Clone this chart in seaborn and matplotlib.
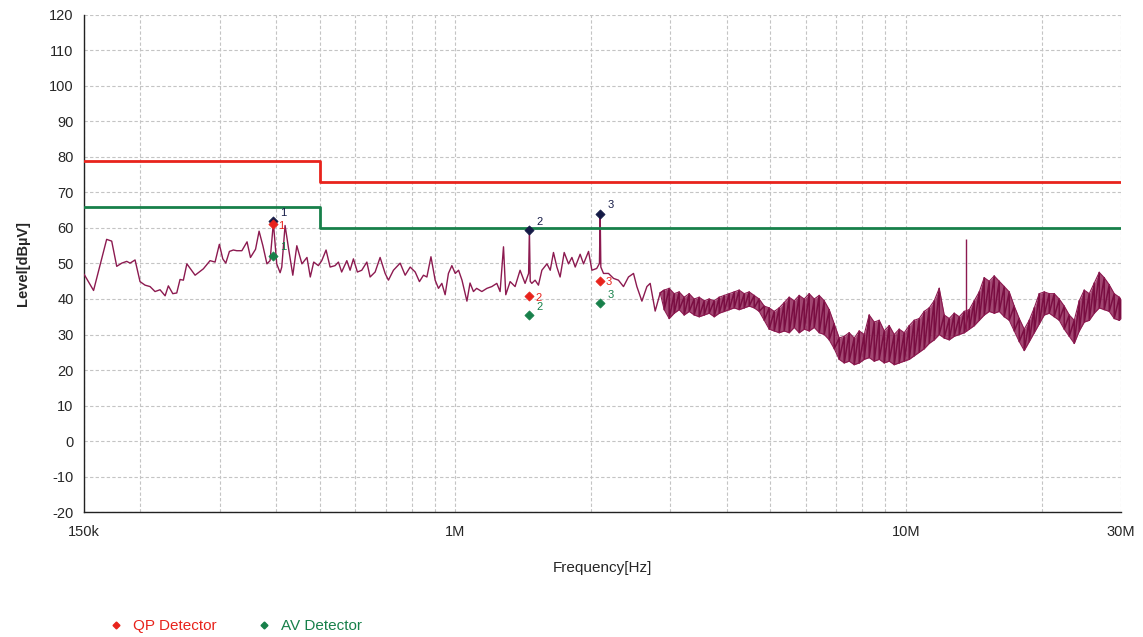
import numpy as np
import pandas as pd
import matplotlib
matplotlib.use("Agg")
import matplotlib.pyplot as plt
from matplotlib.lines import Line2D
from matplotlib.ticker import FixedLocator, NullFormatter
import seaborn as sns

# ---------------- data (frequencies in kHz, levels in dBuV) ----------------
trace_khz = [150, 157.5, 168.4, 172.8, 177.3, 181.9, 186.6, 189.8, 194.7, 199.7,
             204.9, 210.2, 215.6, 221.2, 227.0, 230.8, 236.1, 240.9, 245.0, 249.2,
             253.7, 264.6, 276.0, 285.6, 293.0, 299.5, 304.8, 309.5, 315.3, 321.7,
             327.4, 336.0, 345.0, 351.1, 360.3, 366.9, 374.1, 381.9, 388.1, 394.7,
             401.5, 408.5, 412.0, 419.0, 426.2, 435.9, 444.9, 456.7, 468.6, 476.6,
             485.1, 496.7, 505.4, 516.6, 527.4, 541.0, 550.3, 559.5, 574.4, 584.1,
             594.1, 606.3, 620.0, 636.3, 647.0, 663.8, 680.9, 698.6, 710.5, 728.9,
             754.3, 773.9, 793.9, 814.6, 832.4, 849.7, 864.8, 882.9, 902.1, 917.4,
             933.4, 949.2, 965.3, 982.4, 999.5, 1016.6, 1034.6, 1061, 1078, 1097,
             1115, 1145, 1175, 1205, 1236, 1257, 1279, 1294, 1323, 1357,
             1392, 1428, 1454, 1460, 1466, 1478, 1503, 1529, 1556, 1597,
             1624, 1651, 1680, 1708, 1744, 1783, 1814, 1845, 1892, 1925,
             1975, 2009, 2059, 2088, 2096, 2103, 2132, 2187, 2244, 2301,
             2361, 2422, 2485, 2528, 2594, 2661, 2706, 2776, 2848]
trace_lvl = [47.0, 42.4, 56.8, 56.3, 49.2, 50.1, 50.6, 50.1, 51.0, 44.9,
             43.9, 43.5, 42.1, 42.6, 40.9, 43.7, 41.5, 41.7, 45.5, 45.3,
             49.9, 46.7, 48.5, 50.8, 50.4, 55.4, 51.3, 50.1, 53.4, 53.8,
             53.6, 53.6, 56.1, 51.7, 54.0, 59.1, 55.0, 49.9, 50.8, 61.5,
             49.9, 47.4, 49.0, 60.7, 54.5, 46.7, 55.0, 49.9, 51.7, 46.2,
             50.4, 49.4, 50.8, 53.8, 49.0, 49.4, 50.4, 47.6, 50.8, 48.1,
             51.3, 47.6, 48.1, 50.4, 46.2, 47.6, 51.7, 47.2, 45.3, 48.1,
             50.1, 46.7, 49.0, 47.6, 44.9, 46.7, 46.2, 51.9, 45.3, 43.0,
             44.4, 41.2, 47.2, 49.4, 47.2, 48.1, 45.3, 39.4, 44.5, 42.1,
             43.0, 42.1, 43.0, 43.5, 44.4, 42.1, 54.7, 41.2, 44.9, 43.5,
             48.1, 44.4, 47.2, 59.4, 45.0, 44.4, 45.3, 43.9, 48.1, 49.9,
             48.1, 53.1, 49.0, 46.2, 53.1, 49.9, 51.7, 49.0, 52.6, 49.9,
             53.4, 48.1, 48.6, 50.0, 64.0, 49.0, 47.2, 47.2, 45.8, 45.3,
             43.5, 46.2, 47.2, 43.5, 39.4, 43.5, 44.4, 36.6, 41.7]

# dense part of the sweep: per-bin maximum / minimum of the noise band
band_khz = [2848, 2907, 2982, 3059, 3138, 3219, 3303, 3388, 3476, 3566,
            3658, 3753, 3850, 3950, 4052, 4157, 4264, 4375, 4488, 4604,
            4723, 4846, 4971, 5100, 5231, 5367, 5505, 5648, 5794, 5944,
            6098, 6256, 6417, 6584, 6754, 6929, 7108, 7292, 7480, 7674,
            7873, 8076, 8285, 8500, 8720, 8946, 9177, 9415, 9658, 9908,
            10165, 10428, 10697, 10974, 11258, 11549, 11849, 12155, 12470, 12793,
            13124, 13464, 13812, 14170, 14536, 14913, 15298, 15695, 16100, 16518,
            16944, 17383, 17832, 18294, 18767, 19253, 19751, 20262, 20786, 21325,
            21876, 22443, 23023, 23619, 24230, 24857, 25500, 26160, 26837, 27531,
            28244, 28974, 29725, 30000]
band_hi = [41.7, 42.5, 43.0, 41.5, 42.0, 40.5, 41.5, 40.0, 40.5, 39.5,
           40.0, 39.5, 40.5, 41.0, 41.5, 42.0, 42.5, 41.5, 42.0, 41.0,
           40.0, 38.0, 37.5, 36.5, 37.5, 39.0, 40.5, 39.5, 41.0, 40.0,
           41.5, 40.0, 41.0, 39.5, 37.0, 33.0, 29.0, 29.5, 30.5, 29.0,
           31.0, 30.0, 35.5, 33.5, 34.0, 31.0, 32.5, 30.0, 31.5, 30.5,
           32.5, 34.0, 34.5, 36.5, 37.5, 39.5, 43.0, 35.5, 34.5, 36.0,
           35.0, 36.5, 37.0, 39.5, 42.0, 46.0, 45.0, 46.5, 45.0, 43.5,
           42.0, 38.0, 34.5, 31.5, 34.0, 37.5, 41.5, 42.0, 41.5, 41.5,
           40.0, 38.0, 35.5, 34.0, 39.5, 42.5, 41.5, 44.5, 47.5, 46.0,
           44.0, 41.5, 40.5, 40.0]
band_lo = [41.7, 37.0, 34.5, 36.0, 37.0, 35.5, 36.5, 35.5, 35.0, 35.5,
           36.0, 35.0, 36.0, 36.5, 37.0, 37.5, 37.0, 37.5, 38.0, 37.5,
           36.5, 34.0, 31.5, 31.0, 30.5, 31.0, 30.5, 32.0, 30.5, 31.5,
           31.0, 32.0, 30.5, 30.0, 28.5, 26.0, 23.0, 22.0, 22.5, 21.5,
           22.0, 23.0, 23.5, 22.5, 23.0, 22.0, 22.5, 21.5, 22.0, 22.5,
           23.0, 24.0, 25.0, 26.0, 27.5, 28.5, 30.0, 29.0, 28.5, 29.5,
           30.0, 30.5, 31.5, 32.5, 34.0, 35.5, 36.5, 36.0, 36.5, 35.0,
           34.0, 31.0, 28.0, 25.5, 28.0, 30.5, 33.0, 35.5, 36.0, 35.0,
           34.0, 31.5, 29.5, 27.5, 31.0, 33.5, 34.0, 36.0, 37.5, 37.0,
           36.5, 34.5, 34.0, 34.5]
spur_khz = [13600]
spur_base = [31.0]
spur_top = [57.0]

# limit lines (CISPR class A)
qp_lim_khz = [150, 500, 500, 30000]
qp_lim_lvl = [79, 79, 73, 73]
av_lim_khz = [150, 500, 500, 30000]
av_lim_lvl = [66, 66, 60, 60]

# final measurement markers
mark_khz = [394, 1460, 2096]
mark_names = ["1", "2", "3"]
peak_lvl = [62.0, 59.4, 64.0]
qp_lvl = [61.0, 40.8, 45.1]
av_lvl = [52.2, 35.5, 38.8]

x_tick_vals = [150e3, 1e6, 10e6, 30e6]
x_tick_labels = ["150k", "1M", "10M", "30M"]
y_ticks = list(range(-20, 121, 10))

# ---------------- style ----------------
TRACE = "#8c1a50"
RED = "#e8231c"
GREEN = "#17804a"
NAVY = "#141a46"

sns.set_style("white")
plt.rcParams['font.family'] = ['Liberation Sans', 'DejaVu Sans']
plt.rcParams['axes.unicode_minus'] = False

fig = plt.figure(figsize=(11.43, 6.37), dpi=100)
ax = fig.add_axes([0.0735, 0.1962, 0.9073, 0.7803])
ax.set_xscale("log")
ax.set_xlim(150e3, 30e6)
ax.set_ylim(-20, 120)

k = 1e3
df_trace = pd.DataFrame({"f": np.array(trace_khz) * k, "lvl": trace_lvl})
sns.lineplot(data=df_trace, x="f", y="lvl", ax=ax, color=TRACE, lw=1.0,
             estimator=None, sort=False, zorder=3)

# noise band: envelope plus the max/min strokes of each bin
bf = np.array(band_khz) * k
ax.fill_between(bf, band_lo, band_hi, color=TRACE, alpha=0.8, lw=0, zorder=3)
zig_f = np.repeat(bf, 2)
zig_l = np.column_stack([band_hi, band_lo]).ravel()
sns.lineplot(x=zig_f, y=zig_l, ax=ax, color="#7a0e42", lw=1.1, estimator=None,
             sort=False, zorder=3)
sns.lineplot(x=bf, y=band_hi, ax=ax, color=TRACE, lw=0.8, estimator=None, sort=False, zorder=3)
sns.lineplot(x=bf, y=band_lo, ax=ax, color=TRACE, lw=0.8, estimator=None, sort=False, zorder=3)
ax.vlines(np.array(spur_khz) * k, spur_base, spur_top, color=TRACE, lw=1.0, zorder=3)

sns.lineplot(x=np.array(qp_lim_khz) * k, y=qp_lim_lvl, ax=ax, color=RED, lw=2,
             estimator=None, sort=False, zorder=4)
sns.lineplot(x=np.array(av_lim_khz) * k, y=av_lim_lvl, ax=ax, color=GREEN, lw=2,
             estimator=None, sort=False, zorder=4)

mf = np.array(mark_khz) * k
for lv, col, off in [(peak_lvl, NAVY, (5, 6)), (qp_lvl, RED, (4, -1)),
                     (av_lvl, GREEN, (5, 6))]:
    sns.scatterplot(x=mf, y=lv, ax=ax, marker="D", s=22, color=col,
                    edgecolor=col, linewidth=0.5, zorder=6, legend=False)
    for f, v, n in zip(mf, lv, mark_names):
        ax.annotate(n, (f, v), xytext=off, textcoords="offset points",
                    fontsize=8, color=col, ha="left", va="center", zorder=7)

# axes cosmetics
ax.set_xticks(x_tick_vals)
ax.set_xticklabels(x_tick_labels)
minor = [m * d for d in (1e5, 1e6, 1e7) for m in range(2, 10)
         if 150e3 < m * d < 30e6]
ax.xaxis.set_minor_locator(FixedLocator(minor))
ax.xaxis.set_minor_formatter(NullFormatter())
ax.set_yticks(y_ticks)

gkw = dict(ls=(0, (3, 2)), color="#c4c4c4", lw=0.8)
ax.grid(True, which="both", axis="x", **gkw)
ax.grid(True, which="major", axis="y", **gkw)
ax.set_axisbelow(True)

for s in ("top", "right"):
    ax.spines[s].set_visible(False)
for s in ("left", "bottom"):
    ax.spines[s].set_color("#222222")
    ax.spines[s].set_linewidth(1.0)

ax.tick_params(axis="both", which="major", direction="inout", length=9,
               width=1, color="#222222", labelsize=10.5, pad=3)
ax.tick_params(axis="x", which="minor", direction="inout", length=7,
               width=0.8, color="#222222")
ax.tick_params(axis="x", which="major", pad=5)

ax.set_xlabel("Frequency[Hz]", fontsize=11, labelpad=16)
ax.set_ylabel("Level[dBµV]", fontsize=10.5, fontweight="bold", labelpad=14)

handles = [Line2D([], [], marker="D", ls="", color=RED, ms=3.5),
           Line2D([], [], marker="D", ls="", color=GREEN, ms=3.5)]
fig.legend(handles, ["QP Detector", "AV Detector"], loc="center left",
           bbox_to_anchor=(95 / 1143, 1 - 626 / 637), frameon=False, ncol=2,
           labelcolor=[RED, GREEN], fontsize=11, handlelength=1.0,
           handletextpad=0.6, columnspacing=2.6)

fig.savefig("out.png", dpi=100)
